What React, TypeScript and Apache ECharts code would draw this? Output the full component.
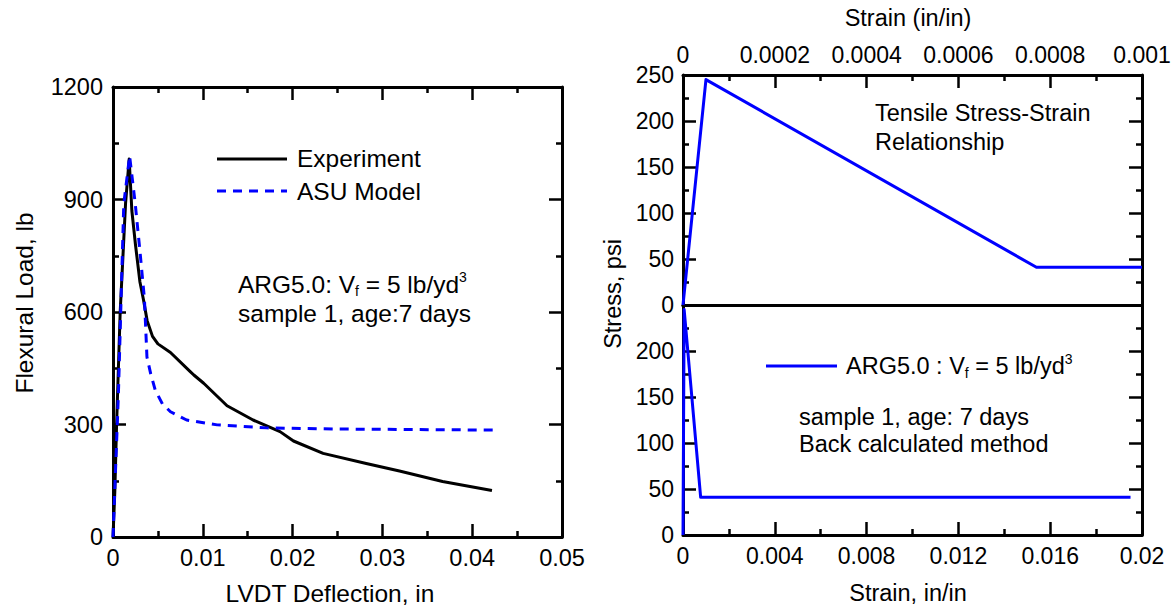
import React, { useEffect, useRef } from "react";
import * as echarts from "echarts";

// ---------- data ----------
// Left chart: flexural load vs LVDT deflection
const expDeflection = [0, 0.0002, 0.0004, 0.0008, 0.0011, 0.0014, 0.0018, 0.0021, 0.0025, 0.003, 0.0034, 0.0038, 0.0044, 0.005, 0.0064, 0.0086, 0.009, 0.0101, 0.0127, 0.0156, 0.0186, 0.0201, 0.0234, 0.0282, 0.0319, 0.0367, 0.0422];
const expLoad = [0, 120, 300, 600, 745, 890, 1008, 870, 780, 680, 632, 577, 535, 515, 492, 441, 432, 410, 350, 312, 281, 256, 223, 196, 176, 148, 124];

const asuDeflection = [0, 0.0006, 0.0012, 0.00185, 0.00248, 0.00303, 0.0035, 0.00378, 0.0042, 0.0047, 0.0055, 0.0064, 0.0082, 0.0116, 0.0171, 0.0245, 0.0428];
const asuLoad = [0, 380, 888, 1016, 888, 755, 635, 480, 435, 392, 355, 334, 312, 299, 291, 288, 285];

// Right chart: tensile stress-strain model
const upperStrain = [0, 0.00005, 0.00077, 0.001];
const upperStress = [0, 245, 41, 41];
const lowerStrain = [0, 0.00005, 0.00077, 0.0195];
const lowerStress = [0, 245, 41, 41];

// tick settings
const leftXTicks = { min: 0, max: 0.05, interval: 0.01 };
const leftYTicks = { min: 0, max: 1200, interval: 300 };
const topStrainTicks = { min: 0, max: 0.001, interval: 0.0002 };
const bottomStrainTicks = { min: 0, max: 0.02, interval: 0.004 };
const stressTicks = { min: 0, max: 250, interval: 50 };

const zip = (a: number[], b: number[]) => a.map((v, i) => [v, b[i]]);

const FONT = "Liberation Sans, Arial, Helvetica, sans-serif";
const BLUE = "#0000ff";
const fmt = (v: number) => String(+Number(v).toPrecision(6));

function axis(
  kind: "x" | "y",
  gridIndex: number,
  position: string,
  ticks: { min: number; max: number; interval: number },
  opts: { labels?: boolean; ticks?: boolean; fontSize?: number; margin?: number; hideMax?: boolean } = {}
) {
  const showTicks = opts.ticks !== false;
  return {
    type: "value",
    gridIndex,
    position,
    min: ticks.min,
    max: ticks.max,
    interval: ticks.interval,
    axisLine: { show: true, onZero: false, lineStyle: { color: "#000", width: 3 } },
    axisTick: { show: showTicks, inside: true, length: 13, lineStyle: { color: "#000", width: 2.5 } },
    minorTick: { show: showTicks, splitNumber: 2, length: 6, lineStyle: { color: "#000", width: 2.5 } },
    splitLine: { show: false },
    minorSplitLine: { show: false },
    axisLabel: {
      show: !!opts.labels,
      color: "#000",
      fontFamily: FONT,
      fontSize: opts.fontSize ?? 23,
      margin: opts.margin ?? 9,
      showMinLabel: true,
      showMaxLabel: true,
      formatter: (v: number) => (opts.hideMax && v === ticks.max ? "" : fmt(v)),
    },
  };
}

function txt(text: string, x: number, y: number, size: number, extra: any = {}) {
  return {
    type: "text",
    x,
    y,
    silent: true,
    ...extra,
    style: {
      text,
      fill: "#000",
      fontFamily: FONT,
      fontSize: size,
      align: "left",
      verticalAlign: "middle",
      ...(extra.style || {}),
    },
  };
}

function richLabel(sep: string, x: number, y: number, size: number) {
  return {
    type: "text",
    x,
    y,
    silent: true,
    style: {
      text: `{a|ARG5.0${sep}V}{s|f}{a| = 5 lb/yd}{p|3}`,
      fill: "#000",
      fontFamily: FONT,
      fontSize: size,
      align: "left",
      verticalAlign: "middle",
      rich: {
        a: { fontFamily: FONT, fontSize: size, lineHeight: 28, fill: "#000" },
        s: { fontFamily: FONT, fontSize: 14, lineHeight: 14, verticalAlign: "bottom", fill: "#000" },
        p: { fontFamily: FONT, fontSize: 14, lineHeight: 14, verticalAlign: "top", fill: "#000" },
      },
    },
  };
}

export default function App() {
  const ref = useRef<HTMLDivElement>(null);

  useEffect(() => {
    if (!ref.current) return;
    const chart = echarts.init(ref.current, null, { renderer: "svg" });

    const option: any = {
      animation: false,
      backgroundColor: "#fff",
      grid: [
        { left: 113, top: 87, width: 449, height: 450 },
        { left: 683, top: 75, width: 459, height: 230 },
        { left: 683, top: 305, width: 459, height: 230 },
      ],
      xAxis: [
        axis("x", 0, "bottom", leftXTicks, { labels: true, fontSize: 23.5, margin: 9 }),
        axis("x", 0, "top", leftXTicks),
        axis("x", 1, "top", topStrainTicks, { labels: true, margin: 9 }),
        axis("x", 1, "bottom", topStrainTicks, { ticks: false }),
        axis("x", 2, "bottom", bottomStrainTicks, { labels: true, margin: 9 }),
        axis("x", 2, "top", bottomStrainTicks, { ticks: false }),
      ],
      yAxis: [
        axis("y", 0, "left", leftYTicks, { labels: true, fontSize: 23.5, margin: 10 }),
        axis("y", 0, "right", leftYTicks),
        axis("y", 1, "left", stressTicks, { labels: true, margin: 9 }),
        axis("y", 1, "right", stressTicks),
        axis("y", 2, "left", stressTicks, { labels: true, margin: 9, hideMax: true }),
        axis("y", 2, "right", stressTicks),
      ],
      series: [
        {
          name: "Experiment",
          type: "line",
          xAxisIndex: 0,
          yAxisIndex: 0,
          data: zip(expDeflection, expLoad),
          symbol: "none",
          clip: false,
          lineStyle: { color: "#000", width: 3, join: "round" },
          z: 3,
        },
        {
          name: "ASU Model",
          type: "line",
          xAxisIndex: 0,
          yAxisIndex: 0,
          data: zip(asuDeflection, asuLoad),
          symbol: "none",
          clip: false,
          lineStyle: { color: BLUE, width: 3, type: [9, 7], join: "round" },
          z: 4,
        },
        {
          name: "Tensile",
          type: "line",
          xAxisIndex: 2,
          yAxisIndex: 2,
          data: zip(upperStrain, upperStress),
          symbol: "none",
          clip: false,
          lineStyle: { color: BLUE, width: 3, join: "round" },
        },
        {
          name: "ARG5.0",
          type: "line",
          xAxisIndex: 4,
          yAxisIndex: 4,
          data: zip(lowerStrain, lowerStress),
          symbol: "none",
          clip: false,
          lineStyle: { color: BLUE, width: 3, join: "round" },
        },
      ],
      graphic: [
        // left legend
        { type: "line", silent: true, shape: { x1: 217, y1: 159, x2: 287, y2: 159 }, style: { stroke: "#000", lineWidth: 3 } },
        { type: "line", silent: true, shape: { x1: 217, y1: 191, x2: 287, y2: 191 }, style: { stroke: BLUE, lineWidth: 3, lineDash: [9, 7] } },
        txt("Experiment", 297, 158, 24.5),
        txt("ASU Model", 297, 191, 24.5),
        richLabel(": ", 238, 284, 24.5),
        txt("sample 1, age:7 days", 238, 313, 24.5),
        txt("LVDT Deflection, in", 330, 593, 24.5, { style: { align: "center" } }),
        txt("Flexural Load, lb", 24, 303, 24.5, { rotation: Math.PI / 2, style: { align: "center" } }),
        // right chart
        txt("Strain (in/in)", 908, 18, 23.5, { style: { align: "center" } }),
        txt("Strain, in/in", 908, 593, 23.5, { style: { align: "center" } }),
        txt("Stress, psi", 613, 294, 23.5, { rotation: Math.PI / 2, style: { align: "center" } }),
        txt("Tensile Stress-Strain", 875, 113, 23.5),
        txt("Relationship", 875, 142, 23.5),
        { type: "line", silent: true, shape: { x1: 766, y1: 366, x2: 837, y2: 366 }, style: { stroke: BLUE, lineWidth: 3 } },
        richLabel(" : ", 846, 366, 23.5),
        txt("sample 1, age: 7 days", 799, 417, 23.5),
        txt("Back calculated method", 799, 444, 23.5),
      ],
    };

    chart.setOption(option);
    return () => chart.dispose();
  }, []);

  return (
    <div
      ref={ref}
      style={{ position: "fixed", left: 0, top: 0, width: 1175, height: 607, background: "#fff" }}
    />
  );
}
